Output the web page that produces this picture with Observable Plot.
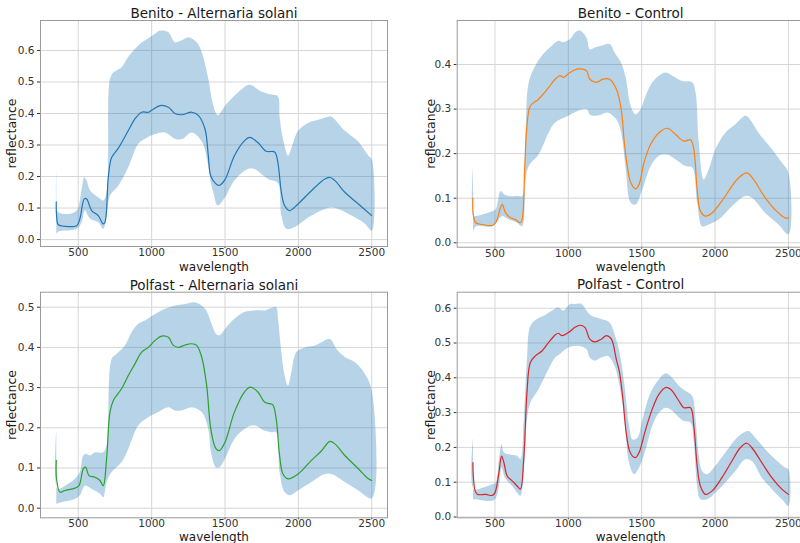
<!DOCTYPE html>
<html><head><meta charset="utf-8">
<script src="https://cdn.jsdelivr.net/npm/d3@7"></script>
<script src="https://cdn.jsdelivr.net/npm/@observablehq/plot@0.6"></script>
<style>
html,body{margin:0;padding:0;background:#fff;}
#root{position:relative;width:800px;height:543px;overflow:hidden;background:#fff;}
.panel{position:absolute;}
</style></head><body><div id="root"></div>
<script>
// ---------- shared ----------
const xTicks = [500, 1000, 1500, 2000, 2500];
const titles = ["Benito - Alternaria solani", "Benito - Control", "Polfast - Alternaria solani", "Polfast - Control"];
const colors = ["#1f77b4", "#ff7f0e", "#2ca02c", "#d62728"];

// ---------- Benito - Alternaria solani ----------
const p1MeanW = [350,352,364,409,489,511,541,557,591,636,670,682,705,727,773,841,886,932,977,1000,1057,1114,1159,1205,1273,1318,1364,1386,1404,1443,1461,1500,1564,1632,1667,1724,1781,1838,1860,1884,1906,1940,1998,2089,2180,2215,2249,2317,2409,2500];
const p1Mean  = [0.12,0.076,0.047,0.042,0.044,0.066,0.129,0.129,0.092,0.076,0.05,0.055,0.2,0.26,0.29,0.346,0.383,0.404,0.404,0.41,0.425,0.42,0.4,0.396,0.404,0.394,0.35,0.267,0.2,0.175,0.172,0.19,0.266,0.313,0.324,0.308,0.28,0.278,0.245,0.15,0.108,0.092,0.113,0.155,0.192,0.197,0.187,0.15,0.113,0.076];
const p1HiW = [350,352,364,432,489,523,541,557,580,636,670,693,716,739,795,841,909,955,1023,1057,1114,1159,1205,1250,1307,1341,1386,1420,1450,1500,1564,1655,1678,1747,1815,1860,1872,1895,1930,1952,1998,2066,2135,2203,2226,2317,2409,2477,2500];
const p1Hi  = [0.22,0.1,0.087,0.081,0.092,0.16,0.198,0.187,0.156,0.134,0.124,0.15,0.51,0.53,0.547,0.58,0.616,0.632,0.653,0.663,0.658,0.626,0.632,0.642,0.626,0.595,0.51,0.425,0.395,0.424,0.456,0.49,0.49,0.47,0.46,0.455,0.39,0.32,0.266,0.29,0.345,0.37,0.38,0.39,0.39,0.345,0.31,0.266,0.255];
const p1LoW = [350,364,489,523,545,580,636,670,693,716,773,841,909,955,1023,1091,1159,1205,1273,1341,1386,1404,1420,1450,1500,1564,1655,1700,1770,1804,1860,1884,1918,1975,2089,2203,2249,2363,2454,2500];
const p1Lo  = [0.018,0.025,0.034,0.055,0.092,0.066,0.055,0.034,0.076,0.14,0.171,0.23,0.304,0.32,0.335,0.34,0.32,0.318,0.34,0.312,0.235,0.18,0.15,0.108,0.134,0.187,0.224,0.224,0.2,0.19,0.18,0.076,0.034,0.04,0.076,0.1,0.1,0.076,0.05,0.028];
const p1YTicks = [0, 0.1, 0.2, 0.3, 0.4, 0.5, 0.6];

// ---------- Benito - Control ----------
const p2MeanW = [350,351,369,414,482,505,538,550,572,606,640,673,685,703,718,741,797,865,910,944,966,1011,1068,1124,1146,1191,1236,1281,1327,1360,1383,1405,1425,1459,1482,1516,1561,1618,1674,1731,1787,1833,1855,1878,1900,1934,1980,2047,2115,2161,2217,2262,2342,2432,2477,2500];
const p2Mean  = [0.1,0.067,0.045,0.041,0.039,0.045,0.079,0.086,0.067,0.056,0.052,0.045,0.052,0.172,0.262,0.307,0.322,0.348,0.367,0.375,0.371,0.382,0.39,0.386,0.367,0.36,0.367,0.367,0.345,0.3,0.22,0.165,0.135,0.121,0.131,0.18,0.221,0.247,0.257,0.243,0.228,0.231,0.21,0.12,0.071,0.06,0.067,0.094,0.127,0.146,0.157,0.142,0.101,0.067,0.056,0.056];
const p2HiW = [350,352,369,482,505,538,561,595,662,685,708,730,775,820,887,932,966,1011,1045,1079,1124,1146,1180,1225,1281,1315,1360,1391,1425,1459,1493,1527,1572,1618,1663,1708,1776,1844,1867,1889,1923,1957,2002,2070,2138,2206,2228,2296,2387,2455,2500];
const p2Hi  = [0.172,0.06,0.06,0.071,0.075,0.116,0.109,0.105,0.105,0.105,0.247,0.36,0.397,0.42,0.442,0.453,0.45,0.457,0.472,0.476,0.46,0.434,0.438,0.442,0.446,0.427,0.404,0.37,0.307,0.288,0.3,0.33,0.36,0.375,0.382,0.375,0.363,0.36,0.337,0.225,0.142,0.165,0.21,0.247,0.266,0.285,0.281,0.247,0.21,0.18,0.157];
const p2LoW = [350,369,482,516,550,595,651,685,708,730,797,865,910,1000,1068,1124,1146,1180,1225,1270,1327,1360,1391,1425,1459,1505,1561,1618,1674,1731,1799,1844,1878,1912,1957,2025,2115,2206,2251,2342,2432,2500];
const p2Lo  = [0.022,0.037,0.037,0.049,0.06,0.052,0.045,0.037,0.135,0.172,0.198,0.247,0.27,0.285,0.296,0.3,0.288,0.285,0.288,0.292,0.277,0.247,0.165,0.09,0.086,0.12,0.172,0.195,0.198,0.187,0.172,0.169,0.09,0.037,0.041,0.052,0.082,0.105,0.101,0.067,0.041,0.019];
const p2YTicks = [0, 0.1, 0.2, 0.3, 0.4];

// ---------- Polfast - Alternaria solani ----------
const p3MeanW = [350,352,375,409,477,505,534,550,573,614,648,670,693,716,739,795,841,886,932,977,1023,1068,1114,1148,1182,1227,1273,1307,1341,1375,1404,1438,1461,1500,1564,1632,1674,1724,1769,1804,1826,1849,1872,1895,1929,1998,2089,2158,2215,2249,2317,2409,2477,2500];
const p3Mean  = [0.119,0.073,0.04,0.044,0.05,0.056,0.098,0.102,0.081,0.077,0.069,0.056,0.123,0.239,0.268,0.297,0.33,0.359,0.388,0.4,0.417,0.428,0.425,0.405,0.4,0.406,0.409,0.405,0.376,0.305,0.195,0.148,0.143,0.164,0.239,0.289,0.301,0.289,0.264,0.26,0.257,0.222,0.131,0.085,0.073,0.085,0.119,0.143,0.166,0.16,0.131,0.098,0.073,0.069];
const p3HiW = [350,359,409,477,511,534,557,580,614,670,693,727,761,818,864,909,955,1023,1091,1159,1227,1295,1364,1404,1438,1461,1500,1564,1632,1701,1769,1815,1849,1861,1884,1906,1929,1952,1986,2043,2112,2158,2215,2260,2317,2386,2454,2500];
const p3Hi  = [0.193,0.048,0.056,0.073,0.09,0.131,0.135,0.131,0.139,0.139,0.156,0.371,0.384,0.405,0.438,0.459,0.467,0.483,0.496,0.504,0.508,0.512,0.496,0.463,0.434,0.43,0.446,0.471,0.488,0.492,0.492,0.498,0.5,0.471,0.388,0.33,0.305,0.338,0.388,0.4,0.405,0.413,0.421,0.396,0.376,0.363,0.334,0.293];
const p3LoW = [350,386,477,511,545,591,648,670,693,727,795,841,909,977,1045,1114,1159,1205,1273,1341,1386,1404,1438,1461,1500,1564,1632,1701,1769,1815,1849,1872,1906,1941,1998,2089,2180,2226,2317,2409,2500];
const p3Lo  = [0.011,0.015,0.023,0.032,0.056,0.048,0.036,0.027,0.065,0.09,0.114,0.148,0.206,0.226,0.239,0.251,0.243,0.243,0.251,0.239,0.197,0.14,0.102,0.102,0.123,0.172,0.197,0.206,0.193,0.189,0.189,0.09,0.04,0.032,0.044,0.065,0.085,0.085,0.065,0.044,0.025];
const p3YTicks = [0, 0.1, 0.2, 0.3, 0.4, 0.5];

// ---------- Polfast - Control ----------
const p4MeanW = [350,351,365,381,437,482,500,527,545,561,583,617,651,673,696,718,741,775,820,865,910,932,955,1000,1045,1079,1113,1146,1180,1225,1259,1293,1327,1349,1372,1394,1417,1437,1459,1482,1527,1572,1618,1663,1697,1753,1787,1833,1855,1878,1900,1934,1980,2047,2115,2172,2217,2251,2319,2387,2455,2500];
const p4Mean  = [0.156,0.128,0.075,0.065,0.065,0.062,0.07,0.128,0.175,0.156,0.118,0.104,0.089,0.08,0.166,0.358,0.444,0.463,0.477,0.501,0.523,0.528,0.521,0.53,0.545,0.551,0.545,0.511,0.503,0.511,0.521,0.511,0.453,0.415,0.338,0.243,0.19,0.175,0.171,0.185,0.252,0.31,0.353,0.372,0.367,0.334,0.314,0.314,0.262,0.147,0.089,0.065,0.075,0.113,0.161,0.199,0.212,0.199,0.156,0.113,0.08,0.065];
const p4HiW = [350,355,414,482,505,527,545,561,595,651,673,696,718,741,786,831,887,932,966,1011,1045,1090,1124,1158,1225,1281,1315,1349,1383,1414,1437,1471,1505,1561,1618,1663,1708,1753,1799,1844,1867,1889,1912,1946,2002,2070,2138,2195,2228,2274,2342,2410,2477,2500];
const p4Hi  = [0.228,0.08,0.084,0.094,0.099,0.166,0.209,0.185,0.18,0.175,0.166,0.281,0.453,0.549,0.569,0.578,0.593,0.602,0.593,0.612,0.612,0.612,0.593,0.578,0.569,0.559,0.525,0.473,0.377,0.262,0.223,0.228,0.281,0.358,0.396,0.413,0.4,0.377,0.362,0.348,0.281,0.175,0.132,0.123,0.147,0.185,0.223,0.243,0.247,0.228,0.195,0.166,0.142,0.137];
const p4LoW = [350,369,459,500,527,545,568,617,651,673,696,718,741,797,865,910,955,1000,1068,1124,1146,1180,1225,1270,1315,1349,1383,1414,1448,1482,1527,1572,1618,1663,1708,1753,1787,1833,1855,1878,1900,1946,2002,2070,2138,2206,2251,2319,2387,2455,2500];
const p4Lo  = [0.051,0.051,0.046,0.051,0.089,0.142,0.113,0.089,0.07,0.061,0.128,0.281,0.329,0.367,0.425,0.458,0.473,0.487,0.492,0.482,0.458,0.449,0.458,0.463,0.434,0.377,0.281,0.155,0.123,0.142,0.195,0.262,0.3,0.314,0.305,0.286,0.276,0.271,0.214,0.089,0.051,0.051,0.07,0.099,0.132,0.166,0.161,0.113,0.08,0.051,0.032];
const p4YTicks = [0, 0.1, 0.2, 0.3, 0.4, 0.5, 0.6];

// ---------- drawing ----------
const FONT = "DejaVu Sans";
function panel(cfg) {
  const pts = (W, V) => W.map((w, i) => ({w, v: V[i]}));
  const band = pts(cfg.hiW, cfg.hi).concat(pts(cfg.loW, cfg.lo).reverse());
  const mean = pts(cfg.meanW, cfg.mean);
  const svg = Plot.plot({
    width: cfg.width, height: cfg.height,
    marginTop: cfg.mt, marginBottom: cfg.mb, marginLeft: cfg.ml, marginRight: cfg.mr,
    style: {background: "transparent", overflow: "visible", fontFamily: FONT, fontSize: "10.5px", color: "#333", maxWidth: "none"},
    x: {domain: [242.5, 2607.5], ticks: xTicks, tickSize: 2, tickPadding: 0, label: null, tickFormat: d => String(d)},
    y: {domain: cfg.yDomain, ticks: cfg.yTicks, tickSize: 3, tickPadding: 3, label: null, tickFormat: d3.format(".1f")},
    marks: [
      Plot.ruleX(xTicks, {stroke: "#d6d6d6", strokeWidth: 1}),
      Plot.ruleY(cfg.yTicks, {stroke: "#d6d6d6", strokeWidth: 1}),
      Plot.line(band, {x: "w", y: "v", fill: "#1f77b4", fillOpacity: 0.32, stroke: "none", curve: "catmull-rom"}),
      Plot.line(mean, {x: "w", y: "v", stroke: cfg.color, strokeWidth: 1.2, curve: "catmull-rom"}),
      Plot.frame({stroke: "#9a9a9a"}),
      Plot.text([cfg.title], {frameAnchor: "top", dy: cfg.titleDy, text: d => d, fontSize: 13.5, fill: "#1a1a1a", lineAnchor: "middle"}),
      Plot.text(["wavelength"], {frameAnchor: "bottom", dy: cfg.xlabDy, text: d => d, fontSize: 12, fill: "#1a1a1a", lineAnchor: "middle"}),
      Plot.text(["reflectance"], {frameAnchor: "left", dx: cfg.ylabDx, rotate: -90, text: d => d, fontSize: 12.5, fill: "#1a1a1a", textAnchor: "middle", lineAnchor: "middle"})
    ]
  });
  const div = document.createElement("div");
  div.className = "panel";
  div.style.left = cfg.left + "px";
  div.style.top = cfg.top + "px";
  div.appendChild(svg);
  document.getElementById("root").appendChild(div);
}

panel({title: titles[0], color: colors[0], meanW: p1MeanW, mean: p1Mean, hiW: p1HiW, hi: p1Hi, loW: p1LoW, lo: p1Lo,
  yTicks: p1YTicks, yDomain: [-0.022, 0.695], left: 0, top: 0, width: 400, height: 275,
  mt: 20, mb: 29, ml: 40, mr: 13, titleDy: -6.7, xlabDy: 21, ylabDx: -28.3});
panel({title: titles[1], color: colors[1], meanW: p2MeanW, mean: p2Mean, hiW: p2HiW, hi: p2Hi, loW: p2LoW, lo: p2Lo,
  yTicks: p2YTicks, yDomain: [-0.0099, 0.4987], left: 400, top: 0, width: 410, height: 275,
  mt: 20, mb: 28.3, ml: 56.7, mr: 6.3, titleDy: -6.7, xlabDy: 19.5, ylabDx: -26.7});
panel({title: titles[2], color: colors[2], meanW: p3MeanW, mean: p3Mean, hiW: p3HiW, hi: p3Hi, loW: p3LoW, lo: p3Lo,
  yTicks: p3YTicks, yDomain: [-0.0239, 0.5373], left: 0, top: 270, width: 400, height: 273,
  mt: 21.7, mb: 25.7, ml: 40, mr: 13, titleDy: -6.7, xlabDy: 19.8, ylabDx: -28.3});
panel({title: titles[3], color: colors[3], meanW: p4MeanW, mean: p4Mean, hiW: p4HiW, hi: p4Hi, loW: p4LoW, lo: p4Lo,
  yTicks: p4YTicks, yDomain: [-0.0023, 0.646], left: 400, top: 270, width: 410, height: 273,
  mt: 21.7, mb: 25.7, ml: 56.7, mr: 6.3, titleDy: -7.7, xlabDy: 19.8, ylabDx: -26.7});
</script>
</body></html>
